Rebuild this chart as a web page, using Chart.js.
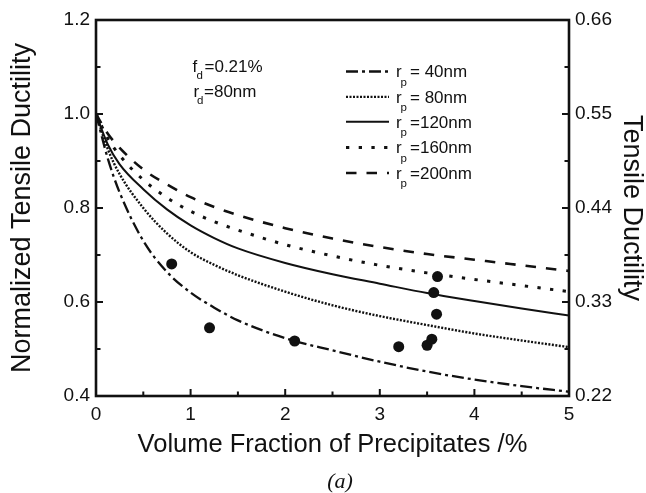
<!DOCTYPE html>
<html><head><meta charset="utf-8">
<script src="https://cdn.jsdelivr.net/npm/chart.js@4"></script>
<style>html,body{margin:0;padding:0;background:#fff;} canvas{display:block;}</style>
</head><body>
<canvas id="c" width="646" height="493"></canvas>
<script>
// ---- data ----
const volumeFraction = [0, 0.125, 0.25, 0.5, 0.75, 1, 1.25, 1.5, 2, 2.5, 3, 3.5, 4, 4.5, 5];
const ductR40  = [1.0, 0.905, 0.833, 0.730, 0.664, 0.620, 0.588, 0.561, 0.523, 0.497, 0.473, 0.452, 0.435, 0.421, 0.409];
const ductR80  = [1.0, 0.925, 0.872, 0.800, 0.746, 0.706, 0.679, 0.657, 0.622, 0.593, 0.570, 0.551, 0.533, 0.518, 0.504];
const ductR120 = [1.0, 0.935, 0.893, 0.840, 0.797, 0.763, 0.736, 0.714, 0.683, 0.659, 0.639, 0.619, 0.602, 0.586, 0.571];
const ductR160 = [1.0, 0.948, 0.912, 0.860, 0.822, 0.793, 0.771, 0.753, 0.722, 0.698, 0.678, 0.662, 0.648, 0.635, 0.622];
const ductR200 = [1.0, 0.958, 0.928, 0.882, 0.850, 0.823, 0.802, 0.785, 0.757, 0.735, 0.717, 0.702, 0.690, 0.678, 0.666];
const expFraction  = [0.8, 1.2, 2.1, 3.2, 3.5, 3.55, 3.6, 3.57, 3.61];
const expDuctility = [0.681, 0.545, 0.517, 0.505, 0.508, 0.521, 0.574, 0.620, 0.654];
const radii = [40, 80, 120, 160, 200];
const xTickValues = [0, 1, 2, 3, 4, 5];
const leftTickValues = [0.4, 0.6, 0.8, 1.0, 1.2];
const rightTickValues = [0.22, 0.33, 0.44, 0.55, 0.66];
const noteFd = '=0.21%';
const noteRd = '=80nm';

// ---- styling ----
const INK = '#111';
const SANS = '"Liberation Sans", Arial, Helvetica, sans-serif';
const seriesList = [ductR40, ductR80, ductR120, ductR160, ductR200];
const lineStyles = [
  {dash: [12, 4, 3, 4], width: 2.3},
  {dash: [2, 1.5], width: 2.4},
  {dash: [], width: 2},
  {dash: [3.3, 9.4], width: 3},
  {dash: [10.5, 10], width: 2.6}
];

const datasets = seriesList.map((s, k) => ({
  type: 'line',
  label: 'r' + radii[k],
  data: volumeFraction.map((x, i) => ({x: x, y: s[i]})),
  borderColor: INK,
  borderWidth: lineStyles[k].width,
  borderDash: lineStyles[k].dash,
  borderCapStyle: 'butt',
  pointRadius: 0,
  fill: false,
  cubicInterpolationMode: 'monotone',
  yAxisID: 'y'
}));
datasets.push({
  type: 'scatter',
  label: 'exp',
  data: expFraction.map((x, i) => ({x: x, y: expDuctility[i]})),
  backgroundColor: INK,
  borderColor: INK,
  borderWidth: 0,
  pointRadius: 5.5,
  yAxisID: 'y'
});

function mids(arr) { const m = []; for (let i = 0; i < arr.length - 1; i++) m.push((arr[i] + arr[i + 1]) / 2); return m; }

const decor = {
  id: 'decor',
  afterDraw(chart) {
    const ctx = chart.ctx, a = chart.chartArea;
    const sx = chart.scales.x, sy = chart.scales.y, sy2 = chart.scales.y2;
    ctx.save();
    ctx.strokeStyle = INK; ctx.fillStyle = INK;
    ctx.setLineDash([]);
    // frame
    ctx.lineWidth = 2.6;
    ctx.strokeRect(a.left, a.top, a.right - a.left, a.bottom - a.top);
    // inward ticks
    ctx.lineWidth = 2;
    const major = 7, minor = 4.5;
    ctx.beginPath();
    xTickValues.forEach(v => { const p = sx.getPixelForValue(v); ctx.moveTo(p, a.bottom); ctx.lineTo(p, a.bottom - major); });
    mids(xTickValues).forEach(v => { const p = sx.getPixelForValue(v); ctx.moveTo(p, a.bottom); ctx.lineTo(p, a.bottom - minor); });
    leftTickValues.forEach(v => { const p = sy.getPixelForValue(v); ctx.moveTo(a.left, p); ctx.lineTo(a.left + major, p); });
    mids(leftTickValues).forEach(v => { const p = sy.getPixelForValue(v); ctx.moveTo(a.left, p); ctx.lineTo(a.left + minor, p); });
    rightTickValues.forEach(v => { const p = sy2.getPixelForValue(v); ctx.moveTo(a.right, p); ctx.lineTo(a.right - major, p); });
    mids(rightTickValues).forEach(v => { const p = sy2.getPixelForValue(v); ctx.moveTo(a.right, p); ctx.lineTo(a.right - minor, p); });
    ctx.stroke();

    // annotation
    ctx.textBaseline = 'alphabetic';
    ctx.textAlign = 'left';
    ctx.font = '17px ' + SANS;
    ctx.fillText('f', 192.5, 71.7);
    ctx.fillText(noteFd, 204.5, 71.7);
    ctx.fillText('r', 193.5, 96.7);
    ctx.fillText(noteRd, 204, 96.7);
    ctx.font = '11.5px ' + SANS;
    ctx.fillText('d', 196.5, 78.5);
    ctx.fillText('d', 197, 104);

    // legend
    const rowBase = [77.3, 102.7, 127.6, 153.2, 178.8];
    radii.forEach((r, k) => {
      const ds = chart.data.datasets[k];
      const by = rowBase[k];
      const ly = by - 5.8;
      ctx.save();
      ctx.lineWidth = ds.borderWidth;
      ctx.setLineDash(ds.borderDash);
      ctx.lineCap = 'butt';
      ctx.beginPath(); ctx.moveTo(346, ly); ctx.lineTo(389, ly); ctx.stroke();
      ctx.restore();
      ctx.font = '17px ' + SANS;
      ctx.fillText('r', 396, by);
      const rest = (r < 100 ? '= ' : '=') + r + 'nm';
      ctx.fillText(rest, 410, by);
      ctx.font = '11.5px ' + SANS;
      ctx.fillText('p', 400.5, by + 8.5);
    });

    // panel label
    ctx.font = 'italic 22px "Liberation Serif", "Times New Roman", serif';
    ctx.textAlign = 'center';
    ctx.fillText('(a)', 340, 488);
    ctx.restore();
  }
};

new Chart(document.getElementById('c'), {
  data: {datasets: datasets},
  options: {
    responsive: false,
    animation: false,
    layout: {padding: {top: 20, left: 0, right: 0, bottom: 0}},
    plugins: {legend: {display: false}, tooltip: {enabled: false}},
    scales: {
      x: {
        type: 'linear', position: 'bottom', min: 0, max: 5,
        afterBuildTicks: s => { s.ticks = xTickValues.map(v => ({value: v})); },
        afterFit: s => { s.height = 97; },
        grid: {display: false, drawTicks: false, tickLength: 0}, border: {display: false},
        ticks: {color: INK, font: {size: 19, family: SANS}, padding: 7, maxRotation: 0, autoSkip: false,
                callback: v => String(v)},
        title: {display: true, text: 'Volume Fraction of Precipitates /%', color: INK,
                font: {size: 25.5, family: SANS, lineHeight: 1}, padding: {top: 0, bottom: 35.5}}
      },
      y: {
        type: 'linear', position: 'left', min: 0.4, max: 1.2,
        afterBuildTicks: s => { s.ticks = leftTickValues.map(v => ({value: v})); },
        afterFit: s => { s.width = 96; },
        grid: {display: false, drawTicks: false, tickLength: 0}, border: {display: false},
        ticks: {color: INK, font: {size: 19, family: SANS}, padding: 6, autoSkip: false,
                callback: v => Number(v).toFixed(1)},
        title: {display: true, text: 'Normalized Tensile Ductility', color: INK,
                font: {size: 27, family: SANS, lineHeight: 1}, padding: {top: 9.5, bottom: 0}}
      },
      y2: {
        type: 'linear', position: 'right', min: 0.22, max: 0.66,
        afterBuildTicks: s => { s.ticks = rightTickValues.map(v => ({value: v})); },
        afterFit: s => { s.width = 77; },
        grid: {display: false, drawTicks: false, tickLength: 0}, border: {display: false},
        ticks: {color: INK, font: {size: 19, family: SANS}, padding: 6, autoSkip: false,
                callback: v => Number(v).toFixed(2)},
        title: {display: true, text: 'Tensile Ductility', color: INK,
                font: {size: 27, family: SANS, lineHeight: 1}, padding: {top: 1, bottom: 0}}
      }
    }
  },
  plugins: [decor]
});
</script>
</body></html>
